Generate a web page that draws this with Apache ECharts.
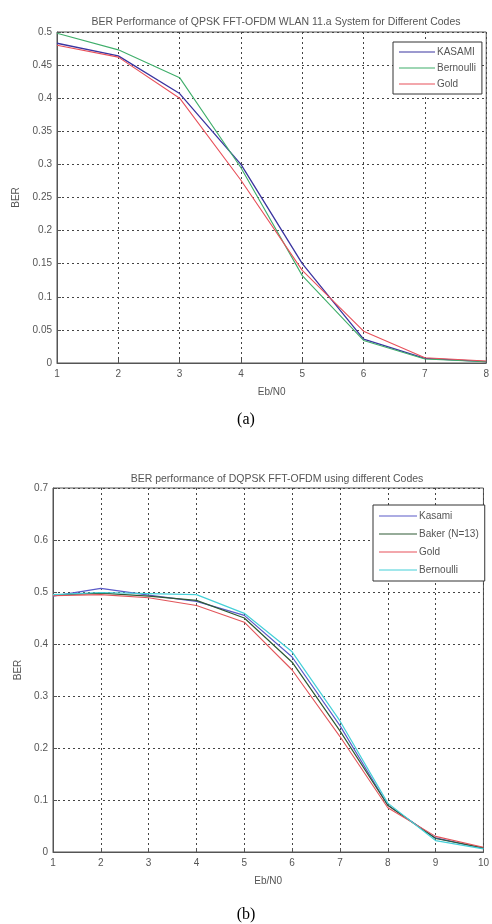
<!DOCTYPE html>
<html><head><meta charset="utf-8">
<script src="https://cdn.jsdelivr.net/npm/echarts@6/dist/echarts.min.js"></script>
<style>html,body{margin:0;padding:0;background:#fff}#c{width:492px;height:924px}</style>
</head><body><div id="c"></div>
<script>
// Chart (a)
const ebnoA = [1, 2, 3, 4, 5, 6, 7, 8];
const kasamiA = [0.483, 0.464, 0.407, 0.300, 0.150, 0.036, 0.007, 0.002];
const bernoulliA = [0.498, 0.473, 0.431, 0.295, 0.132, 0.034, 0.006, 0.002];
const goldA = [0.480, 0.462, 0.400, 0.276, 0.140, 0.048, 0.008, 0.003];
const yTicksA = [0, 0.05, 0.1, 0.15, 0.2, 0.25, 0.3, 0.35, 0.4, 0.45, 0.5];
// Chart (b)
const ebnoB = [1, 2, 3, 4, 5, 6, 7, 8, 9, 10];
const kasamiB = [0.492, 0.507, 0.494, 0.482, 0.455, 0.375, 0.243, 0.090, 0.027, 0.007];
const bakerB = [0.494, 0.498, 0.492, 0.484, 0.450, 0.365, 0.233, 0.090, 0.026, 0.008];
const goldB = [0.493, 0.495, 0.489, 0.474, 0.442, 0.350, 0.222, 0.085, 0.030, 0.009];
const bernoulliB = [0.495, 0.499, 0.497, 0.495, 0.459, 0.385, 0.252, 0.094, 0.022, 0.006];
const yTicksB = [0, 0.1, 0.2, 0.3, 0.4, 0.5, 0.6, 0.7];

const titleA = 'BER Performance of QPSK FFT-OFDM WLAN 11.a System for Different Codes';
const titleB = 'BER performance of DQPSK FFT-OFDM using different Codes';

const pairs = (xs, ys) => xs.map((x, i) => [x, ys[i]]);
const txt = '#555';
const fontF = 'Liberation Sans, Arial, sans-serif';
const grid = '#444';

function xAxis(gi, min, max) {
  return {
    type: 'value', gridIndex: gi, min: min, max: max, interval: 1,
    name: 'Eb/N0', nameLocation: 'middle', nameGap: 24,
    nameTextStyle: {color: txt, fontSize: 10, fontFamily: fontF},
    axisLine: {show: true, lineStyle: {color: '#555'}},
    axisTick: {show: true, inside: true, length: 4, lineStyle: {color: '#555'}},
    axisLabel: {color: txt, fontSize: 10, fontFamily: fontF, margin: 6},
    splitLine: {show: true, lineStyle: {color: grid, type: [2, 3], width: 1}}
  };
}
function yAxis(gi, max, interval, ticks, gap) {
  return {
    type: 'value', gridIndex: gi, min: 0, max: max, interval: interval,
    name: 'BER', nameLocation: 'middle', nameGap: gap,
    nameTextStyle: {color: txt, fontSize: 10, fontFamily: fontF},
    axisLine: {show: true, lineStyle: {color: '#555'}},
    axisTick: {show: true, inside: true, length: 4, lineStyle: {color: '#555'}},
    axisLabel: {color: txt, fontSize: 10, fontFamily: fontF, margin: 5,
      formatter: v => {
        const t = ticks.find(k => Math.abs(k - v) < 1e-9);
        return t === undefined ? '' : String(t);
      }},
    splitLine: {show: true, lineStyle: {color: grid, type: [2, 3], width: 1}}
  };
}
function ser(name, xi, data, color, w) {
  return {
    name: name, type: 'line', xAxisIndex: xi, yAxisIndex: xi,
    data: data, symbol: 'none', smooth: false,
    lineStyle: {color: color, width: w || 1.2}, itemStyle: {color: color},
    emphasis: {disabled: true}
  };
}

const chart = echarts.init(document.getElementById('c'), null, {renderer: 'canvas'});
chart.setOption({
  backgroundColor: '#fff',
  animation: false,
  title: [
    {text: titleA, left: 271, top: 12, textAlign: 'center',
      textStyle: {color: txt, fontSize: 10.5, fontWeight: 'normal', fontFamily: fontF}},
    {text: titleB, left: 272, top: 469, textAlign: 'center',
      textStyle: {color: txt, fontSize: 10.5, fontWeight: 'normal', fontFamily: fontF}}
  ],
  grid: [
    {left: 57, top: 32, width: 430, height: 331, show: true, borderColor: '#555', borderWidth: 1, backgroundColor: '#fff'},
    {left: 53, top: 488, width: 436, height: 364, show: true, borderColor: '#555', borderWidth: 1, backgroundColor: '#fff'}
  ],
  xAxis: [xAxis(0, 1, 8), xAxis(1, 1, 10)],
  yAxis: [yAxis(0, 0.5, 0.05, yTicksA, 36), yAxis(1, 0.7, 0.1, yTicksB, 30)],
  legend: [
    {data: ['KASAMI', 'Bernoulli', 'Gold'], orient: 'vertical', left: 393, top: 42,
      backgroundColor: '#fff', borderColor: '#333', borderWidth: 1, padding: [5, 6, 5, 6],
      itemGap: 6, itemWidth: 36, itemHeight: 8, icon: 'path://M0,4L36,4L36,5L0,5Z',
      textStyle: {color: txt, fontSize: 10, fontFamily: fontF, padding: [0, 0, 0, -3]}},
    {data: ['Kasami', 'Baker (N=13)', 'Gold', 'Bernoulli '], orient: 'vertical', left: 373, top: 505,
      backgroundColor: '#fff', borderColor: '#333', borderWidth: 1, padding: [6, 6, 6, 6],
      itemGap: 8, itemWidth: 38, itemHeight: 8, icon: 'path://M0,4L36,4L36,5L0,5Z',
      textStyle: {color: txt, fontSize: 10, fontFamily: fontF, padding: [0, 0, 0, -3]}}
  ],
  series: [
    ser('KASAMI', 0, pairs(ebnoA, kasamiA), '#3b35a0', 1.3),
    ser('Bernoulli', 0, pairs(ebnoA, bernoulliA), '#3fae6a', 1.1),
    ser('Gold', 0, pairs(ebnoA, goldA), '#e8505a', 1.1),
    ser('Kasami', 1, pairs(ebnoB, kasamiB), '#5a5ac8', 1.2),
    ser('Baker (N=13)', 1, pairs(ebnoB, bakerB), '#2e5a34', 1.2),
    ser('Gold', 1, pairs(ebnoB, goldB), '#e2555a', 1.1),
    ser('Bernoulli ', 1, pairs(ebnoB, bernoulliB), '#45d0d8', 1.2)
  ],
  graphic: [
    {type: 'text', left: 'center', top: 412, style: {text: '(a)', font: '16px "Liberation Serif", "Times New Roman", serif', fill: '#000'}},
    {type: 'text', left: 'center', top: 907, style: {text: '(b)', font: '16px "Liberation Serif", "Times New Roman", serif', fill: '#000'}}
  ]
});
</script></body></html>
